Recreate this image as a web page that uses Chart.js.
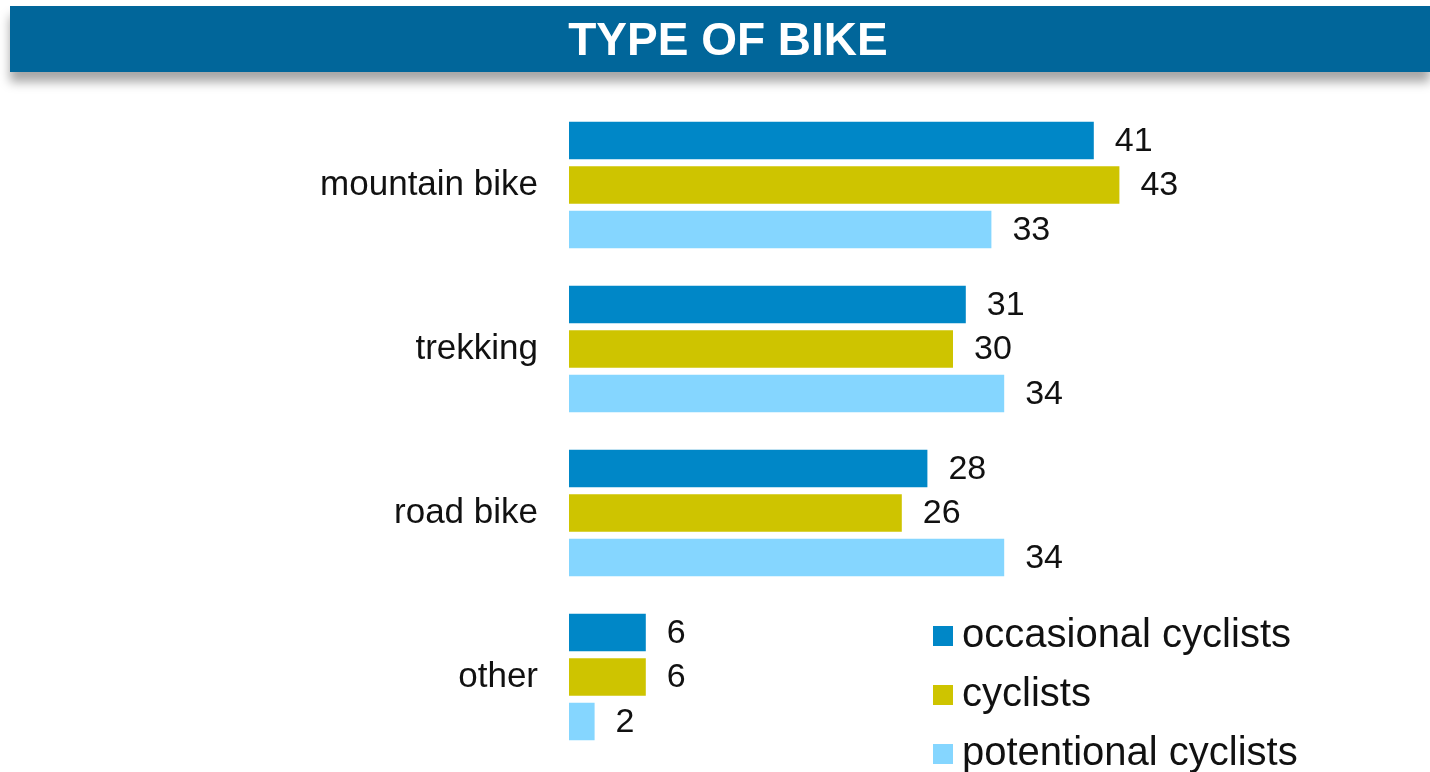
<!DOCTYPE html>
<html>
<head>
<meta charset="utf-8">
<script src="https://cdn.jsdelivr.net/npm/chart.js@4/dist/chart.umd.min.js"></script>
<style>
    html, body { margin: 0; padding: 0; background: #fff; }
    body { width: 1430px; height: 772px; position: relative; overflow: hidden; font-family: "Liberation Sans", Arial, sans-serif; }
    #header {
        position: absolute; left: 10px; top: 6px; width: 1420px; height: 66px;
        background: #01669A; color: #fff; font-weight: bold; font-size: 46px;
        line-height: 66px; text-align: center; text-indent: 16px;
        box-shadow: 0 10px 10px rgba(0, 0, 0, 0.35);
        z-index: 2;
    }
    #chartWrap { position: absolute; left: 0; top: 0; width: 1430px; height: 772px; }
</style>
</head>
<body>
<div id="header">TYPE OF BIKE</div>
<div id="chartWrap"><canvas id="bikeChart" width="1430" height="772"></canvas></div>
<script>
// data
var categories = ['mountain bike', 'trekking', 'road bike', 'other'];
var occasional = [41, 31, 28, 6];
var cyclists = [43, 30, 26, 6];
var potential = [33, 34, 34, 2];
var seriesNames = ['occasional cyclists', 'cyclists', 'potentional cyclists'];
var seriesColors = ['#0087C7', '#CEC400', '#85D6FF'];

// value labels at the end of each bar
var valueLabels = {
    id: 'valueLabels',
    afterDatasetsDraw: function (chart) {
        var ctx = chart.ctx;
        ctx.save();
        ctx.font = '34px "Liberation Sans", Arial, sans-serif';
        ctx.fillStyle = '#111';
        ctx.textAlign = 'left';
        ctx.textBaseline = 'middle';
        chart.data.datasets.forEach(function (ds, i) {
            chart.getDatasetMeta(i).data.forEach(function (bar, j) {
                ctx.fillText(ds.data[j], bar.x + 21, bar.y + 1);
            });
        });
        ctx.restore();
    }
};

// legend drawn in the lower right corner
var cornerLegend = {
    id: 'cornerLegend',
    afterDraw: function (chart) {
        var ctx = chart.ctx;
        ctx.save();
        ctx.font = '40px "Liberation Sans", Arial, sans-serif';
        ctx.textBaseline = 'middle';
        chart.data.datasets.forEach(function (ds, i) {
            var y = 636 + i * 59;
            ctx.fillStyle = ds.backgroundColor;
            ctx.fillRect(933, y - 10, 20, 20);
            ctx.fillStyle = '#111';
            ctx.fillText(ds.label, 962, y);
        });
        ctx.restore();
    }
};

document.addEventListener('DOMContentLoaded', function () {
    var ctx = document.getElementById('bikeChart').getContext('2d');

    var bikeChart = new Chart(ctx, {
        type: 'bar',
        data: {
            labels: categories,
            datasets: [
                { label: seriesNames[0], data: occasional, backgroundColor: seriesColors[0] },
                { label: seriesNames[1], data: cyclists, backgroundColor: seriesColors[1] },
                { label: seriesNames[2], data: potential, backgroundColor: seriesColors[2] }
            ]
        },
        options: {
            indexAxis: 'y',
            responsive: false,
            animation: false,
            categoryPercentage: 0.814,
            barPercentage: 0.843,
            layout: { padding: { top: 103, bottom: 13, left: 0, right: 93 } },
            plugins: {
                legend: { display: false },
                tooltip: { enabled: false }
            },
            scales: {
                x: {
                    display: false,
                    min: 0,
                    max: 60
                },
                y: {
                    grid: { display: false },
                    border: { display: false },
                    ticks: {
                        color: '#111',
                        padding: 23,
                        font: { family: '"Liberation Sans", Arial, sans-serif', size: 35 }
                    },
                    afterFit: function (scale) {
                        scale.width = 569;
                        scale.paddingTop = 0;
                        scale.paddingBottom = 0;
                    }
                }
            }
        },
        plugins: [valueLabels, cornerLegend]
    });
});
</script>
</body>
</html>
